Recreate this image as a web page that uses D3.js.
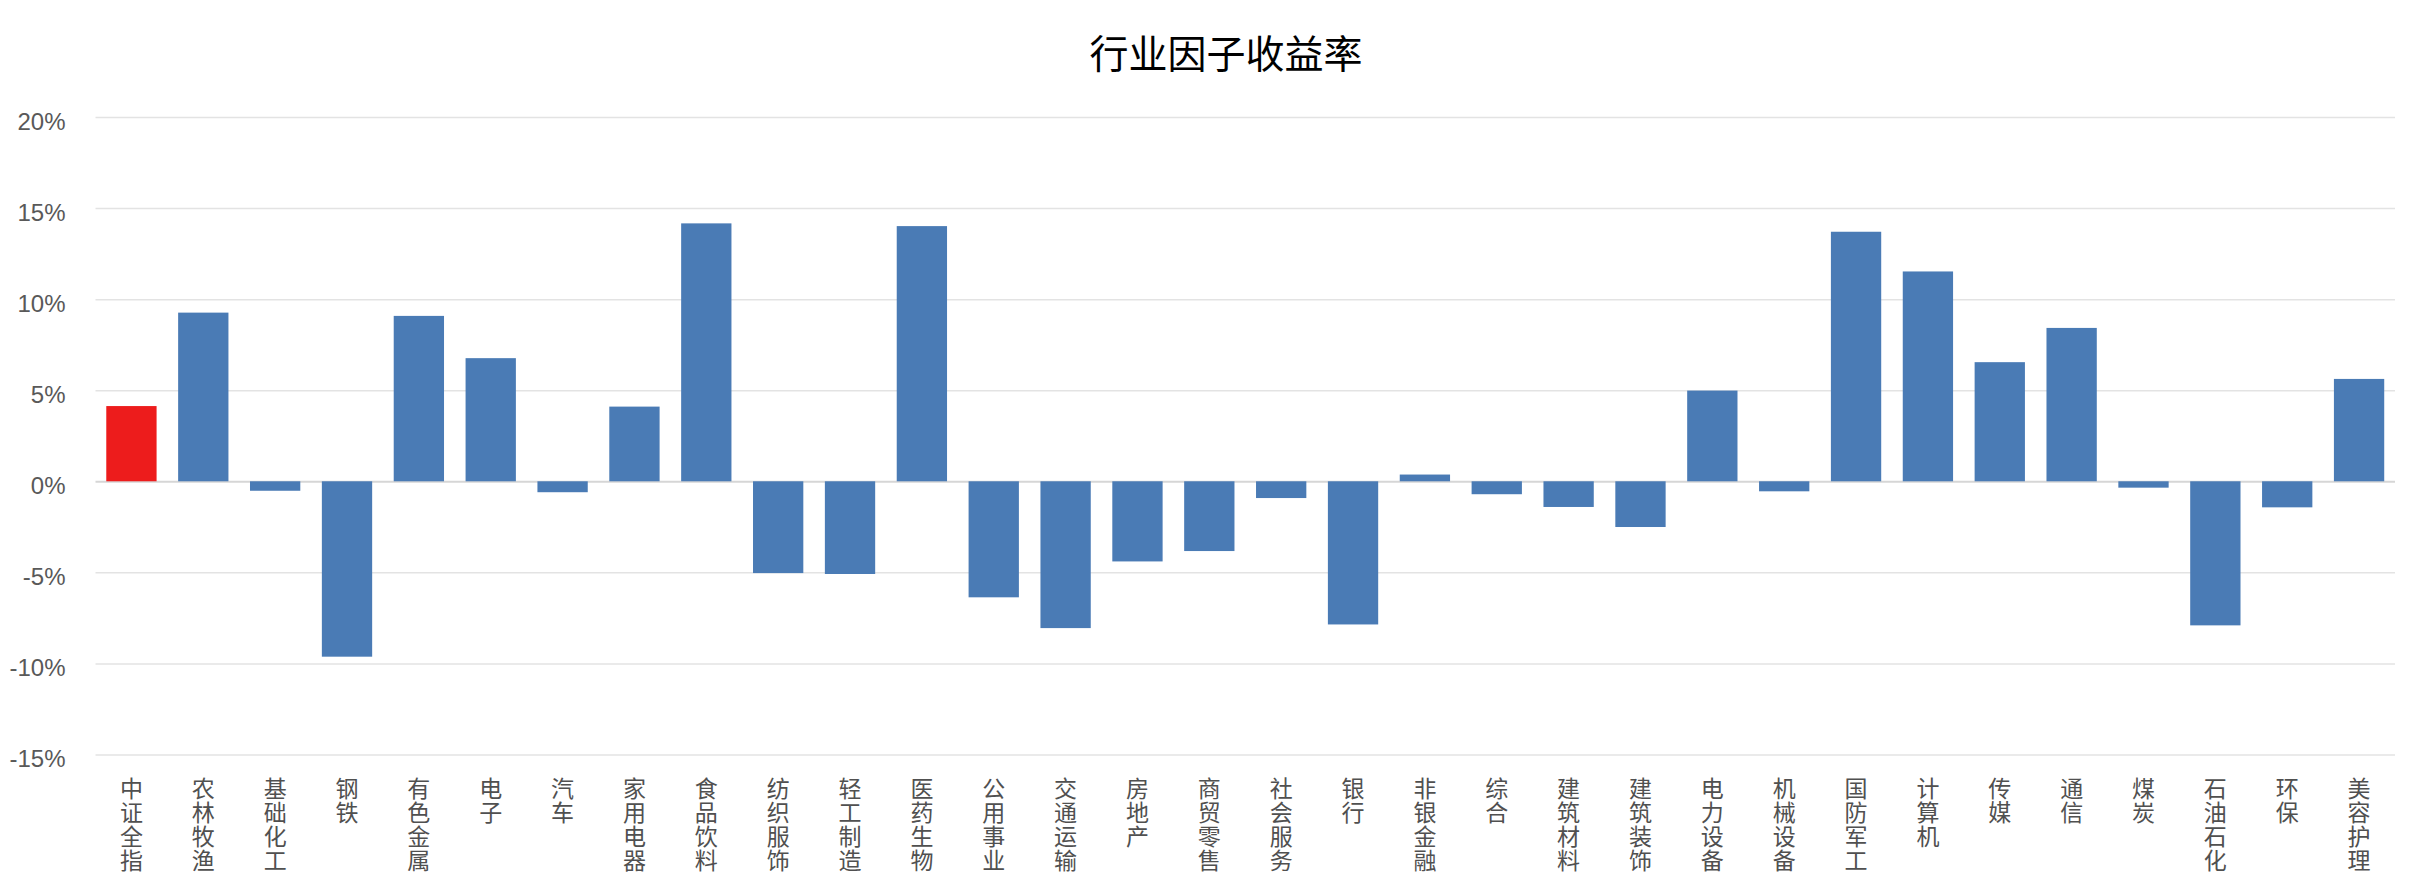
<!DOCTYPE html>
<html>
<head>
<meta charset="utf-8">
<script src="https://cdn.jsdelivr.net/npm/d3@7"></script>
<style>
  html, body { margin: 0; padding: 0; background: #ffffff; }
  svg { display: block; }
</style>
</head>
<body>
<svg id="chart" width="2414" height="890"></svg>
<script>
const title = "行业因子收益率";
const categories = ["中证全指","农林牧渔","基础化工","钢铁","有色金属","电子","汽车","家用电器","食品饮料","纺织服饰","轻工制造","医药生物","公用事业","交通运输","房地产","商贸零售","社会服务","银行","非银金融","综合","建筑材料","建筑装饰","电力设备","机械设备","国防军工","计算机","传媒","通信","煤炭","石油石化","环保","美容护理"];
const values = [4.13, 9.26, -0.52, -9.63, 9.08, 6.76, -0.60, 4.10, 14.16, -5.04, -5.09, 14.01, -6.37, -8.06, -4.40, -3.83, -0.92, -7.86, 0.37, -0.71, -1.41, -2.51, 4.98, -0.55, 13.70, 11.52, 6.54, 8.42, -0.35, -7.91, -1.43, 5.62];
const yTicks = [-15, -10, -5, 0, 5, 10, 15, 20];
const highlight = ["中证全指"];

const svg = d3.select("#chart");
const cjk = "'Noto Sans CJK SC', 'Noto Sans', sans-serif";
const latin = "'Liberation Sans', 'DejaVu Sans', sans-serif";

const plot = { left: 95.5, right: 2395, top: 117, bottom: 754.5 };

const x = d3.scaleBand()
  .domain(categories)
  .range([plot.left, plot.right])
  .paddingInner(0.3)
  .paddingOuter(0.15);

const y = d3.scaleLinear()
  .domain([d3.min(yTicks), d3.max(yTicks)])
  .range([plot.bottom, plot.top]);

// gridlines
const grid = svg.append("g")
  .attr("transform", `translate(${plot.left},0)`)
  .call(d3.axisLeft(y).tickValues(yTicks).tickSize(-(plot.right - plot.left)).tickFormat(""));
grid.select(".domain").remove();
grid.selectAll(".tick line")
  .attr("stroke", d => d === 0 ? "#d6d6d6" : "#e3e3e3")
  .attr("stroke-width", d => d === 0 ? 2 : 1.5);

// y labels
const yAxis = svg.append("g")
  .attr("transform", `translate(${plot.left},0)`)
  .call(d3.axisLeft(y).tickValues(yTicks).tickSize(0).tickPadding(30).tickFormat(d => d + "%"));
yAxis.select(".domain").remove();
yAxis.selectAll(".tick text")
  .attr("font-family", latin)
  .attr("font-size", 24)
  .attr("fill", "#595959")
  .attr("dy", "0.5em");

// bars
svg.append("g").selectAll("rect")
  .data(categories.map((c, i) => ({ c, v: values[i] })))
  .join("rect")
  .attr("x", d => x(d.c))
  .attr("width", x.bandwidth())
  .attr("y", d => y(Math.max(0, d.v)))
  .attr("height", d => Math.abs(y(d.v) - y(0)))
  .attr("fill", d => highlight.includes(d.c) ? "#ed1c1c" : "#4a7bb5");

// x labels (vertical text)
const xAxis = svg.append("g")
  .attr("transform", `translate(0,${plot.bottom})`)
  .call(d3.axisBottom(x).tickSize(0).tickPadding(0));
xAxis.select(".domain").remove();
xAxis.selectAll(".tick text")
  .attr("font-family", cjk)
  .attr("font-size", 23)
  .attr("fill", "#505050")
  .attr("text-anchor", "start")
  .attr("x", 0)
  .attr("y", 22)
  .attr("dy", null)
  .style("writing-mode", "vertical-rl")
  .style("text-orientation", "upright")
  .style("letter-spacing", "1.2px");

// title
svg.append("text")
  .attr("x", 1226)
  .attr("y", 68)
  .attr("text-anchor", "middle")
  .attr("font-family", cjk)
  .attr("font-size", 39)
  .attr("fill", "#000000")
  .text(title);
</script>
</body>
</html>
